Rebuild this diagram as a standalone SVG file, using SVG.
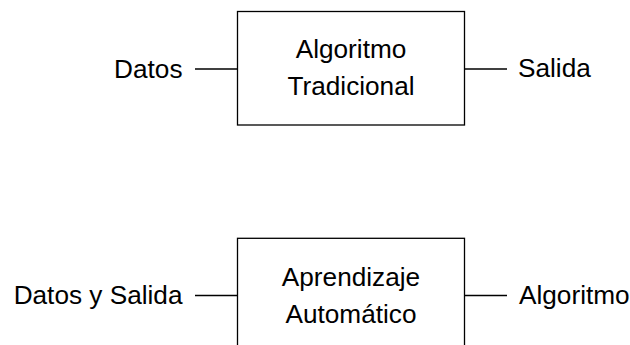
<svg xmlns="http://www.w3.org/2000/svg" width="630" height="345" viewBox="0 0 630 345">
  <style>
    .box { fill: #ffffff; stroke: #000000; stroke-width: 1.3; }
    .wire { stroke: #000000; stroke-width: 1.3; fill: none; }
    text { font-family: "Liberation Sans", Arial, Helvetica, sans-serif; font-size: 26.2px; fill: #000000; }
    .mid { text-anchor: middle; }
    .end { text-anchor: end; }
  </style>
  <rect width="630" height="345" fill="#ffffff"/>

  <!-- connectors -->
  <g id="connectors">
    <line class="wire" x1="195" y1="69" x2="237.5" y2="69"/>
    <line class="wire" x1="464.5" y1="69" x2="507" y2="69"/>
    <line class="wire" x1="195" y1="295.5" x2="237.5" y2="295.5"/>
    <line class="wire" x1="464.5" y1="295.5" x2="507" y2="295.5"/>
  </g>

  <!-- traditional algorithm -->
  <g id="tradicional">
    <rect class="box" x="237.5" y="11.5" width="227" height="113.5"/>
    <text class="mid" x="351" y="58.3">Algoritmo</text>
    <text class="mid" x="351" y="95">Tradicional</text>
  </g>
  <g id="datos"><text class="end" x="182.5" y="77.5">Datos</text></g>
  <g id="salida"><text x="518" y="77">Salida</text></g>

  <!-- machine learning -->
  <g id="aprendizaje">
    <rect class="box" x="237.5" y="238.3" width="227" height="113.5"/>
    <text class="mid" x="351" y="285.7">Aprendizaje</text>
    <text class="mid" x="351" y="323.3">Automático</text>
  </g>
  <g id="datos-salida"><text class="end" x="182.5" y="303.5">Datos y Salida</text></g>
  <g id="algoritmo"><text x="519" y="303.5">Algoritmo</text></g>
</svg>
